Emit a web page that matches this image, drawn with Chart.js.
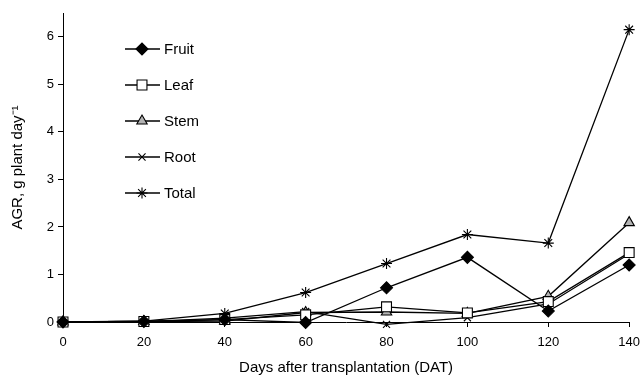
<!DOCTYPE html>
<html>
<head>
<meta charset="utf-8">
<script src="https://cdn.jsdelivr.net/npm/chart.js@4/dist/chart.umd.min.js"></script>
<style>
  html, body { margin: 0; padding: 0; background: #fff; }
  #wrap { width: 642px; height: 375px; }
</style>
</head>
<body>
<div id="wrap"><canvas id="agrChart" width="642" height="375"></canvas></div>
<script>
// days after transplantation
var days = [0, 20, 40, 60, 80, 100, 120, 140];

// AGR values, g plant-1 day-1
var fruit = [0, 0.01, 0.05, -0.01, 0.72, 1.36, 0.23, 1.20];
var leaf  = [0, 0.01, 0.05, 0.15, 0.32, 0.19, 0.43, 1.46];
var stem  = [0, 0.01, 0.02, 0.20, 0.21, 0.18, 0.54, 2.09];
var root  = [0, 0.01, 0.08, 0.22, -0.05, 0.09, 0.38, 1.43];
var total = [0, 0.02, 0.18, 0.62, 1.23, 1.84, 1.66, 6.15];

var seriesNames = ['Fruit', 'Leaf', 'Stem', 'Root', 'Total'];
var seriesData = [fruit, leaf, stem, root, total];
var xTicks = [0, 20, 40, 60, 80, 100, 120, 140];
var yTicks = [0, 1, 2, 3, 4, 5, 6];

var FONT = '"Liberation Sans", Arial, sans-serif';

var styles = [
  { pointStyle: 'rectRot',  bg: '#000000', r: 6 },
  { pointStyle: 'rect',     bg: '#ffffff', r: 7 },
  { pointStyle: 'triangle', bg: '#b3b3b3', r: 6 },
  { pointStyle: 'crossRot', bg: '#000000', r: 5 },
  { pointStyle: 'star',     bg: '#000000', r: 5.5 }
];

function toPoints(vals) {
  return days.map(function (d, i) { return { x: d, y: vals[i] }; });
}

var datasets = seriesNames.map(function (name, i) {
  return {
    label: name,
    data: toPoints(seriesData[i]),
    borderColor: '#000',
    borderWidth: 1.3,
    backgroundColor: styles[i].bg,
    pointStyle: styles[i].pointStyle,
    pointRadius: styles[i].r,
    pointBorderColor: '#000',
    pointBackgroundColor: styles[i].bg,
    pointBorderWidth: 1.1,
    tension: 0,
    clip: false
  };
});

// legend drawn inside the plot, one item per row
var insideLegend = {
  id: 'insideLegend',
  afterDatasetsDraw: function (chart) {
    var ctx = chart.ctx;
    var area = chart.chartArea;
    ctx.save();
    chart.data.datasets.forEach(function (ds, i) {
      var y = area.top + 36 + i * 36;
      var x0 = area.left + 62;
      ctx.strokeStyle = '#000';
      ctx.lineWidth = 1.3;
      ctx.beginPath();
      ctx.moveTo(x0, y);
      ctx.lineTo(x0 + 35, y);
      ctx.stroke();
      ctx.fillStyle = ds.pointBackgroundColor;
      ctx.strokeStyle = '#000';
      ctx.lineWidth = 1.1;
      Chart.helpers.drawPoint(ctx, {
        pointStyle: ds.pointStyle,
        radius: ds.pointRadius,
        rotation: 0,
        borderWidth: 1.1
      }, x0 + 17, y);
      ctx.fillStyle = '#000';
      ctx.font = '15px ' + FONT;
      ctx.textAlign = 'left';
      ctx.textBaseline = 'middle';
      ctx.fillText(ds.label, x0 + 39, y + 1);
    });
    ctx.restore();
  }
};

var ctx = document.getElementById('agrChart').getContext('2d');
var agrChart = new Chart(ctx, {
  type: 'line',
  data: { datasets: datasets },
  options: {
    responsive: false,
    animation: false,
    layout: { padding: { left: 0, right: 8, top: 13, bottom: 0 } },
    plugins: {
      legend: { display: false },
      tooltip: { enabled: false }
    },
    scales: {
      x: {
        type: 'linear',
        min: 0,
        max: 140,
        afterBuildTicks: function (scale) {
          scale.ticks = xTicks.map(function (v) { return { value: v }; });
        },
        afterFit: function (scale) { scale.height = 53; },
        grid: {
          display: true,
          drawOnChartArea: false,
          drawTicks: true,
          tickLength: 5,
          color: '#000'
        },
        border: { display: true, color: '#000', width: 1 },
        ticks: {
          color: '#000',
          padding: 2,
          maxRotation: 0,
          font: { family: FONT, size: 13, lineHeight: 2 }
        },
        title: {
          display: true,
          text: 'Days after transplantation (DAT)',
          color: '#000',
          padding: { top: 0, bottom: 0 },
          font: { family: FONT, size: 15, lineHeight: 1 }
        }
      },
      y: {
        type: 'linear',
        min: 0,
        max: 6.5,
        afterBuildTicks: function (scale) {
          scale.ticks = yTicks.map(function (v) { return { value: v }; });
        },
        afterFit: function (scale) { scale.width = 63; },
        grid: {
          display: true,
          drawOnChartArea: false,
          drawTicks: true,
          tickLength: 5,
          color: '#000'
        },
        border: { display: true, color: '#000', width: 1 },
        ticks: {
          color: '#000',
          padding: 4,
          font: { family: FONT, size: 13 }
        },
        title: {
          display: true,
          text: 'AGR, g plant day\u207B\u00B9',
          color: '#000',
          padding: { top: 9, bottom: 0 },
          font: { family: FONT, size: 15 }
        }
      }
    }
  },
  plugins: [insideLegend]
});
</script>
</body>
</html>
